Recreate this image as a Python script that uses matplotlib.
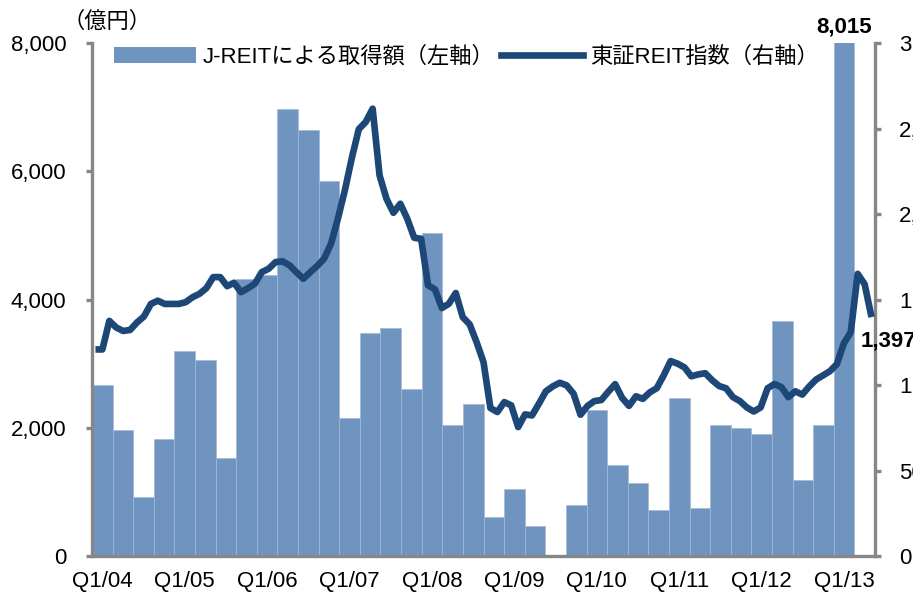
import numpy as np
import matplotlib
matplotlib.use("Agg")
import matplotlib.pyplot as plt
from matplotlib.patches import Patch
from matplotlib.lines import Line2D
from matplotlib.ticker import FuncFormatter

plt.rcParams['font.family'] = ['Liberation Sans', 'Noto Sans CJK JP', 'DejaVu Sans']

# ---- data ----
quarters = [f"Q{q}/{y:02d}" for y in range(4, 14) for q in range(1, 5)][:38]
acquisitions = [2670, 1960, 920, 1820, 3190, 3050, 1530, 4320, 4380, 6970, 6650, 5850,
                2150, 3470, 3560, 2610, 5030, 2045, 2370, 615, 1040, 470, 0, 800,
                2280, 1425, 1140, 710, 2470, 755, 2037, 1996, 1900, 3660, 1185, 2037,
                8015, np.nan]
reit_index = [1208, 1208, 1375, 1336, 1316, 1322, 1366, 1401, 1474, 1493, 1474, 1474,
              1474, 1484, 1513, 1533, 1566, 1631, 1631, 1578, 1598, 1543, 1566, 1592,
              1660, 1680, 1719, 1723, 1700, 1660, 1621, 1660, 1696, 1739, 1827, 1975,
              2140, 2328, 2496, 2538, 2616, 2226, 2089, 2007, 2060, 1972, 1861, 1855,
              1583, 1559, 1450, 1475, 1538, 1397, 1355, 1251, 1134, 865, 842, 900,
              881, 754, 828, 822, 891, 963, 992, 1013, 998, 949, 826, 877,
              906, 912, 960, 1005, 925, 878, 934, 919, 957, 981, 1056, 1140,
              1125, 1103, 1051, 1062, 1069, 1028, 994, 981, 929, 906, 869, 845,
              869, 981, 1006, 987, 929, 963, 944, 991, 1032, 1056, 1081, 1122,
              1243, 1309, 1650, 1590, 1397]
xtick_labels = ["Q1/04", "Q1/05", "Q1/06", "Q1/07", "Q1/08", "Q1/09",
                "Q1/10", "Q1/11", "Q1/12", "Q1/13"]
left_ticks = [0, 2000, 4000, 6000, 8000]
right_ticks = [0, 500, 1000, 1500, 2000, 2500, 3000]

bar_color = '#7094C0'
line_color = '#1D4777'
spine_color = '#878787'
fs = 16

fig = plt.figure(figsize=(9.13, 6.02), dpi=100)
ax = fig.add_axes([92/913, 1-556/602, (875-92)/913, (556-43)/602])
ax2 = ax.twinx()

nq = len(quarters)
xb = np.arange(nq)
ax.bar(xb, acquisitions, width=1.0, color=bar_color, edgecolor='#A3B9D7',
       linewidth=0.5, zorder=2)
ax.set_xlim(-0.5, nq - 0.5)
ax.set_ylim(0, 8000)

nm = len(reit_index)
xm = (np.arange(nm) + 0.5) * nq / nm - 0.5
ax2.plot(xm, reit_index, color=line_color, lw=4.8, solid_joinstyle='round',
         solid_capstyle='butt', zorder=3)
ax2.set_ylim(0, 3000)

# ticks & spines
for a in (ax, ax2):
    for s in a.spines.values():
        s.set_color(spine_color)
        s.set_linewidth(2.4)
    a.spines['top'].set_visible(False)
ax.spines['right'].set_visible(False)
ax2.spines['left'].set_visible(False)
ax2.spines['bottom'].set_visible(False)

ax.set_yticks(left_ticks)
ax.yaxis.set_major_formatter(FuncFormatter(lambda v, p: f"{int(v):,}"))
ax.tick_params(axis='y', direction='out', length=4.3, width=2.4, color=spine_color,
               labelsize=fs, pad=14)
ax2.set_yticks(right_ticks)
ax2.yaxis.set_major_formatter(FuncFormatter(lambda v, p: f"{int(v):,}"))
ax2.tick_params(axis='y', direction='out', length=4.3, width=2.4, color=spine_color,
                labelsize=fs, pad=13)
tick_pos = [quarters.index(l) for l in xtick_labels]
ax.set_xticks(tick_pos)
ax.set_xticklabels(xtick_labels)
ax.tick_params(axis='x', length=0, labelsize=fs, pad=11)

# annotations
ax.annotate(f"{int(acquisitions[36]):,}", xy=(36, 8000), xytext=(0, 4),
            textcoords='offset points', ha='center', va='bottom',
            fontsize=fs, fontweight='bold', annotation_clip=False)
ax2.annotate(f"{reit_index[-1]:,}", xy=(xm[-1], reit_index[-1]), xytext=(-8, -17),
             textcoords='offset points', ha='left', va='center',
             fontsize=fs, fontweight='bold', annotation_clip=False)
fig.text(62/913, 1-22/602, "（億円）", ha='left', va='center', fontsize=fs)

handles = [Patch(facecolor=bar_color, edgecolor='none'),
           Line2D([0], [0], color=line_color, lw=4.8)]
labels = ["J-REITによる取得額（左軸）", "東証REIT指数（右軸）"]
leg = ax2.legend(handles, labels, loc='center', bbox_to_anchor=(0.478, 0.973),
                 ncol=2, frameon=False, fontsize=fs, handlelength=3.7,
                 handleheight=0.75, handletextpad=0.3, columnspacing=0.3,
                 borderaxespad=0, borderpad=0)

fig.savefig("out.png", dpi=100)
